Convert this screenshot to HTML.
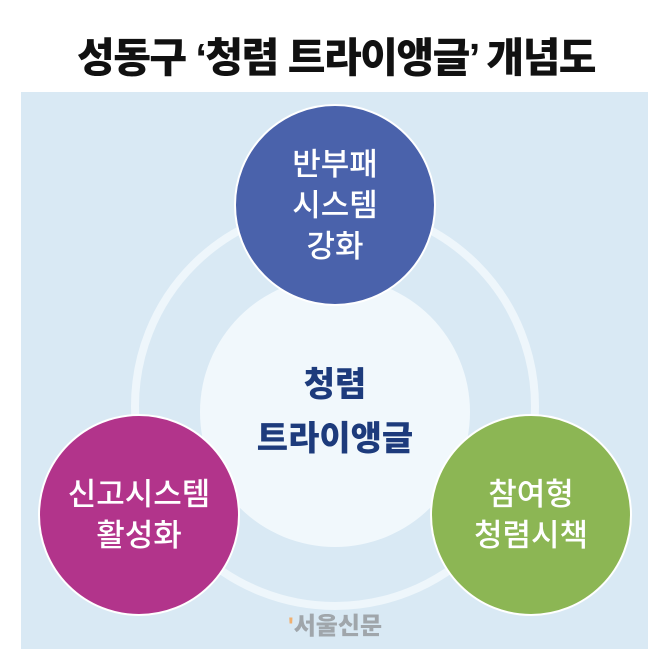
<!DOCTYPE html>
<html><head><meta charset="utf-8"><style>
html,body{margin:0;padding:0;background:#fff;width:672px;height:665px;overflow:hidden}
body{position:relative;font-family:"Liberation Sans","Noto Sans CJK KR",sans-serif}
.t{position:absolute;left:0;width:672px;top:24px;text-align:center;font-size:41px;font-weight:900;color:#111;letter-spacing:-1.5px}
.panel{position:absolute;left:21px;top:92px;width:627px;height:557px;background:#d9e9f4}
.c{position:absolute;border-radius:50%;box-sizing:border-box;display:flex;align-items:center;justify-content:center;text-align:center;color:#fff;font-size:31px;line-height:41px;font-weight:500}
</style></head><body>
<div class="t">성동구 ‘청렴 트라이앵글’ 개념도</div>
<div class="panel"></div>
<div class="c" style="left:131px;top:202px;width:408px;height:408px;border:8px solid #eef6fb"></div>
<div class="c" style="left:200px;top:277px;width:270px;height:270px;background:#f1f8fc;color:#1d3b7c;font-weight:900;font-size:34px;line-height:54px">청렴<br>트라이앵글</div>
<div class="c" style="left:234px;top:104px;width:202px;height:202px;background:#4a62ab;border:2px solid #fff">반부패<br>시스템<br>강화</div>
<div class="c" style="left:38px;top:414px;width:202px;height:202px;background:#b2348b;border:2px solid #fff">신고시스템<br>활성화</div>
<div class="c" style="left:430px;top:414px;width:202px;height:202px;background:#8cb654;border:2px solid #fff">참여형<br>청렴시책</div>
<div style="position:absolute;left:288px;top:606px;font-size:24px;font-weight:900;color:#a0a6ab"><span style="color:#f0b070">'</span>서울신문</div>
</body></html>
